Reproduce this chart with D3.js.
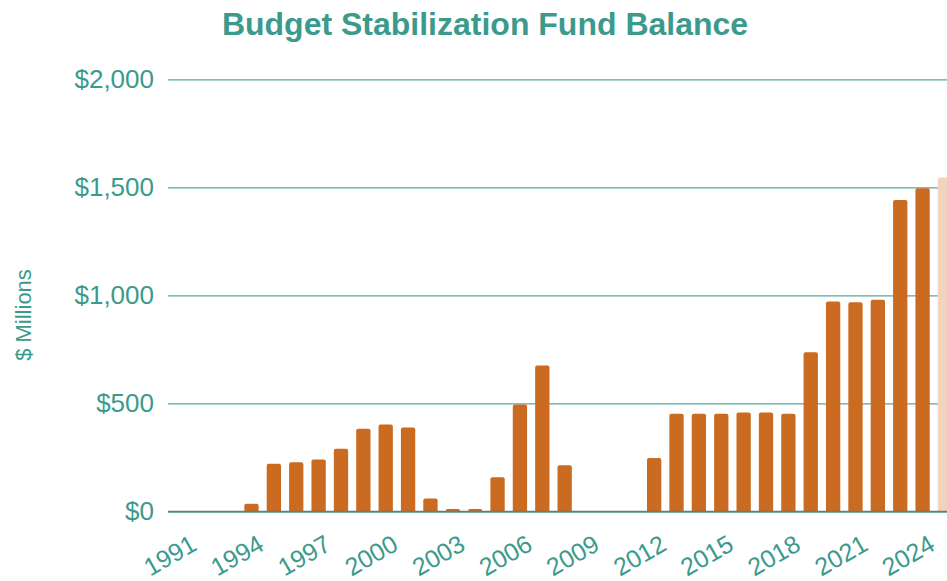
<!DOCTYPE html>
<html>
<head>
  <meta charset="utf-8">
  <script src="https://d3js.org/d3.v7.min.js"></script>
  <style>
    body { margin: 0; background: #fff; }
    text { font-family: "Liberation Sans", Arial, sans-serif; }
  </style>
</head>
<body>
<script>
  // data, $ millions (2025 shown as projection)
  var years = d3.range(1991, 2026);
  var balances = [0, 0, 0, 36, 221, 228, 241, 290, 383, 403, 389, 60, 11, 11, 159,
                  495, 676, 214, 0, 0, 0, 247, 452, 452, 452, 458, 458, 452, 737,
                  972, 968, 980, 1441, 1496, 1546];
  var projectedYears = [2025];
  var yTicks = [0, 500, 1000, 1500, 2000];
  var xTickYears = [1991, 1994, 1997, 2000, 2003, 2006, 2009, 2012, 2015, 2018, 2021, 2024];

  var width = 947, height = 581;
  var teal = "#3b9a8c", orange = "#cb6b21", peach = "#f1d4bd";
  var left = 168, plotX0 = 173.2, baseY = 511.5, topY = 79.3;

  var data = years.map(function (yr, i) { return { year: yr, value: balances[i] }; });

  var svg = d3.select("body").append("svg")
      .attr("width", width)
      .attr("height", height);

  var x = d3.scaleBand()
      .domain(years)
      .range([plotX0, plotX0 + 35 * 22.37])
      .paddingInner(0.36)
      .paddingOuter(0.18);

  var y = d3.scaleLinear()
      .domain([0, 2000])
      .range([baseY, topY]);

  // title
  svg.append("text")
      .attr("x", 485)
      .attr("y", 35)
      .attr("text-anchor", "middle")
      .style("font-size", "32px")
      .style("font-weight", "bold")
      .style("fill", teal)
      .text("Budget Stabilization Fund Balance");

  // gridlines + y labels
  var yAxis = d3.axisLeft(y)
      .tickValues(yTicks)
      .tickSize(-(width - left))
      .tickPadding(14)
      .tickFormat(function (d) { return "$" + d3.format(",")(d); });

  var gy = svg.append("g")
      .attr("transform", "translate(" + left + ",0)")
      .call(yAxis);
  gy.select(".domain").remove();
  gy.selectAll(".tick line")
      .attr("stroke", "#52a89d")
      .attr("stroke-width", 1.3);
  gy.selectAll(".tick text")
      .style("font-size", "26px")
      .style("fill", teal);

  // y axis title
  svg.append("text")
      .attr("transform", "translate(31,315) rotate(-90)")
      .attr("text-anchor", "middle")
      .style("font-size", "22px")
      .style("fill", teal)
      .text("$ Millions");

  // bars with rounded tops
  function barPath(d) {
    var x0 = x(d.year), w = x.bandwidth(), y0 = y(d.value), r = 2;
    var h = baseY - y0;
    if (h < r) r = h / 2;
    return "M" + x0 + "," + baseY +
      "V" + (y0 + r) +
      "Q" + x0 + "," + y0 + " " + (x0 + r) + "," + y0 +
      "H" + (x0 + w - r) +
      "Q" + (x0 + w) + "," + y0 + " " + (x0 + w) + "," + (y0 + r) +
      "V" + baseY + "Z";
  }

  svg.append("g").selectAll("path")
      .data(data.filter(function (d) { return d.value > 0; }))
      .join("path")
      .attr("d", barPath)
      .attr("fill", function (d) {
        return projectedYears.indexOf(d.year) >= 0 ? peach : orange;
      });

  // baseline
  svg.append("line")
      .attr("x1", left).attr("x2", width)
      .attr("y1", baseY).attr("y2", baseY)
      .attr("stroke", "#767676")
      .attr("stroke-width", 1.5);

  // x labels
  svg.append("g").selectAll("text")
      .data(xTickYears)
      .join("text")
      .attr("transform", function (d) {
        var cx = x(d) + x.bandwidth() / 2;
        return "translate(" + (cx + 14) + ",549) rotate(-30)";
      })
      .attr("text-anchor", "end")
      .style("font-size", "25px")
      .style("fill", teal)
      .text(function (d) { return d; });
</script>
</body>
</html>
